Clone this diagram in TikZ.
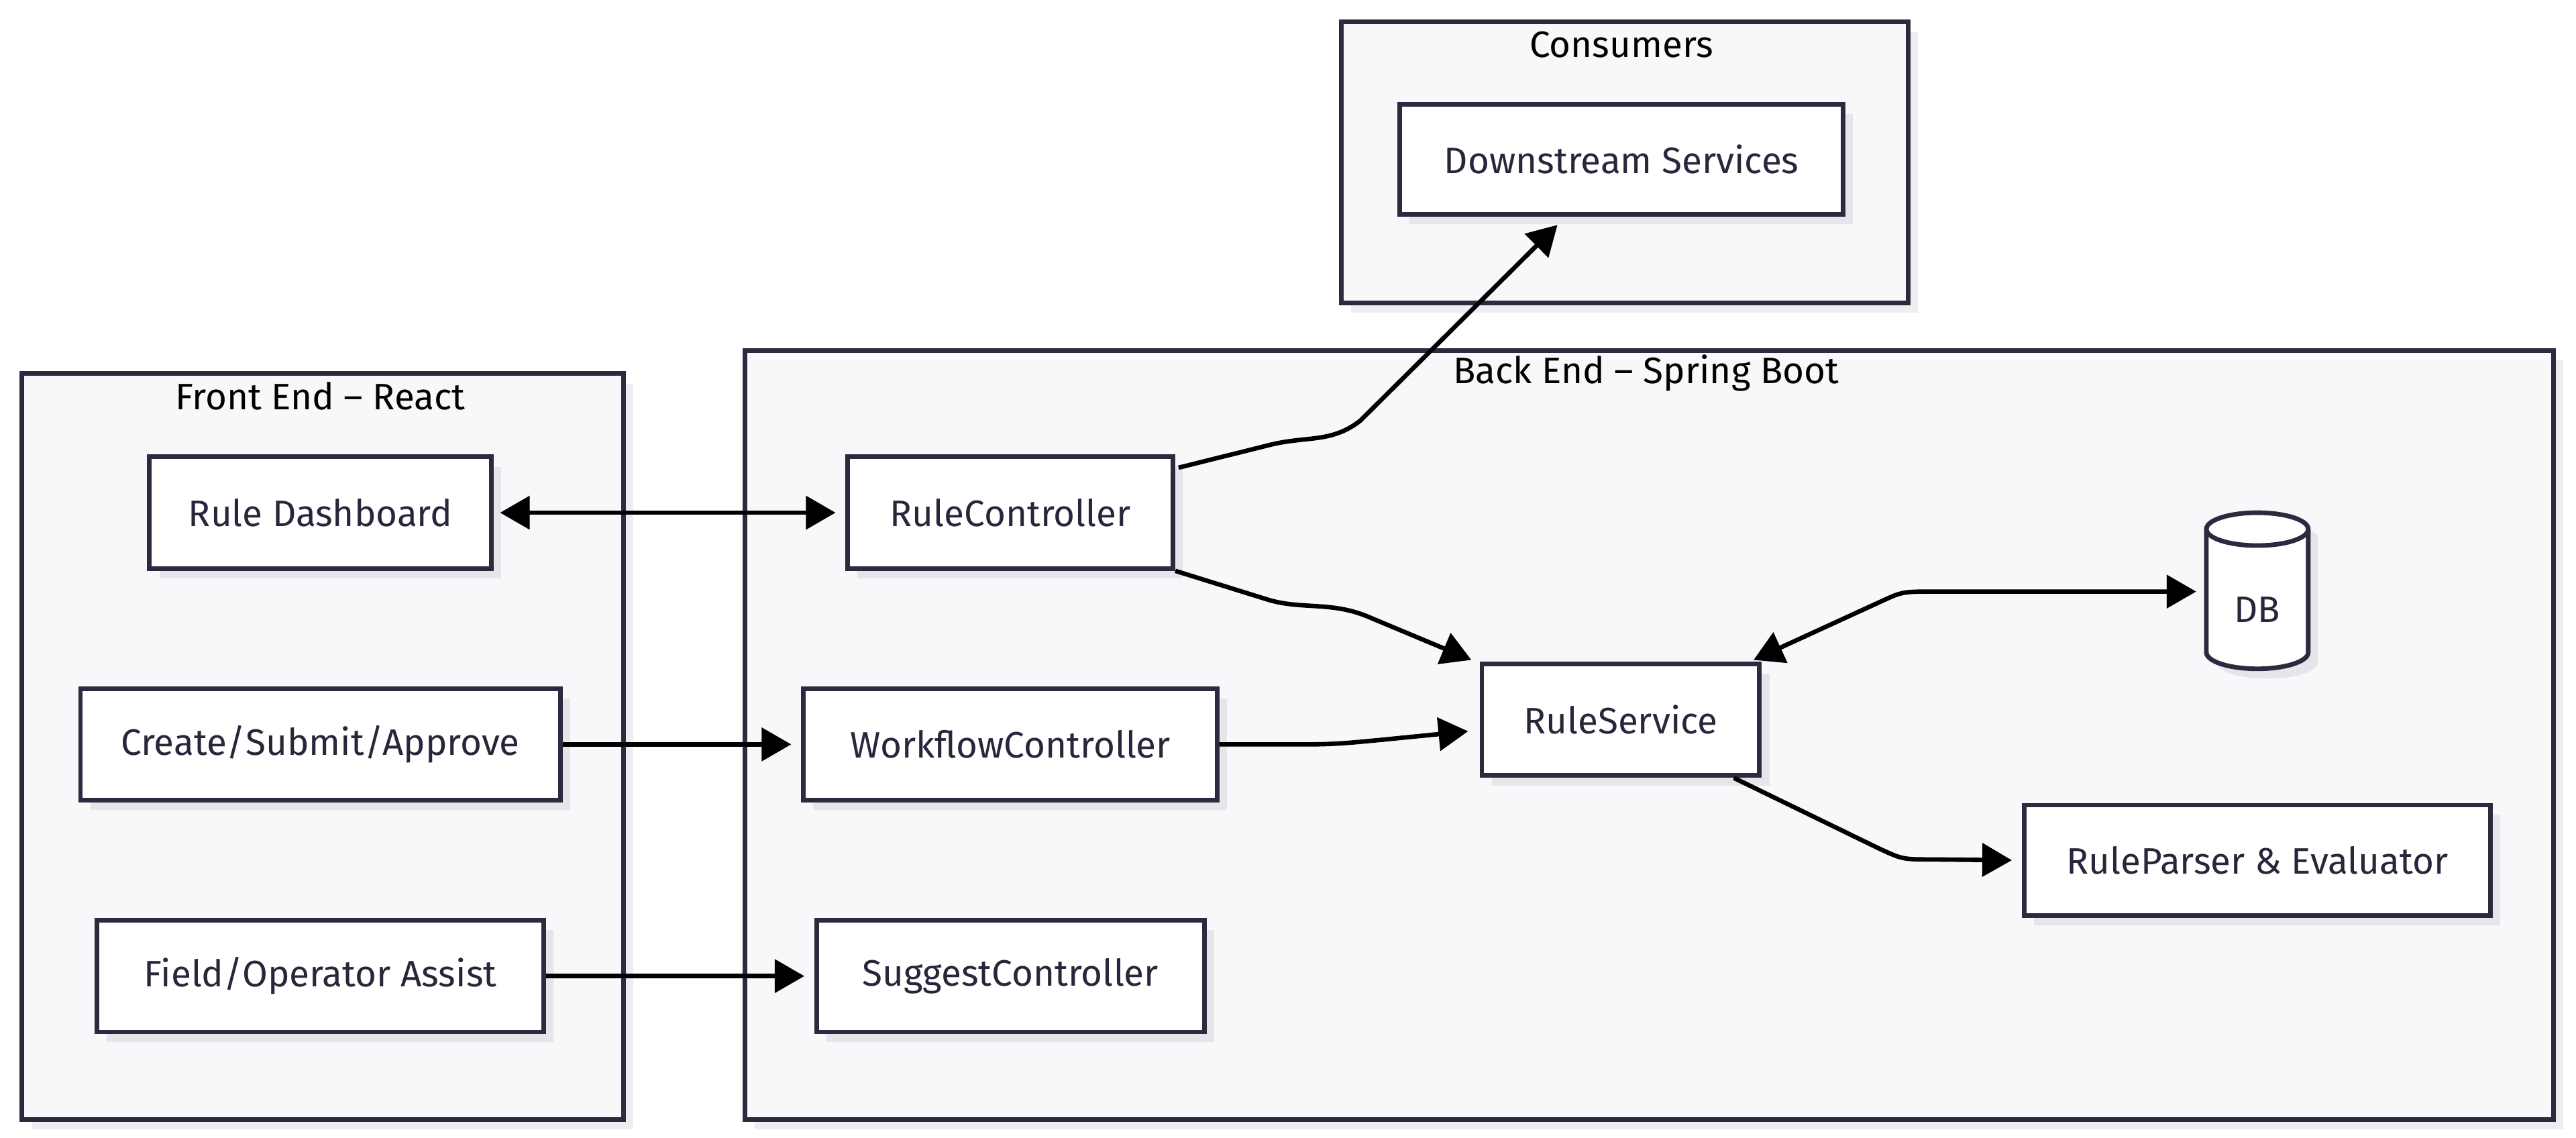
\documentclass[tikz,border=0pt]{standalone}
\usepackage{fontspec}
\setmainfont{Fira Sans}
\usetikzlibrary{arrows.meta,calc,shadows}
\definecolor{grpfill}{HTML}{F8F8FA}
\definecolor{edgec}{HTML}{2B2A3F}
\definecolor{shadowg}{HTML}{EEEEF1}
\definecolor{shadowc}{HTML}{E6E6EA}
\definecolor{txtc}{HTML}{27263A}
\begin{document}
\begin{tikzpicture}[x=1pt,y=-1pt,
  grp/.style={draw=edgec, line width=2.8pt, fill=grpfill, inner sep=0pt, anchor=north west,
    general shadow={fill=shadowg, shadow xshift=6pt, shadow yshift=-6pt}},
  grptitle/.style={font=\fontsize{22.4}{26}\selectfont, text=black, inner sep=0pt},
  box/.style={draw=edgec, line width=2.8pt, fill=white, inner sep=0pt,
    font=\fontsize{22.4}{26}\selectfont, text=txtc,
    general shadow={fill=shadowc, shadow xshift=6pt, shadow yshift=-6pt}},
  arr/.style={line width=2.7pt, black, -{Triangle[length=18pt,width=20pt]}},
  arrb/.style={line width=2.7pt, black, {Triangle[length=18pt,width=20pt]}-{Triangle[length=18pt,width=20pt]}}
]
\useasboundingbox (0,0) rectangle (1568,692.5);
\fill[white] (0,0) rectangle (1568,692.5);

% groups
\node[grp, minimum width=345, minimum height=171] (cons) at (815,12) {};
\node[grptitle] (const) at (987,27) {Consumers};
\node[grp, minimum width=1101, minimum height=468] (be) at (452,212) {};
\node[grptitle] (bet) at (1002,227) {Back End – Spring Boot};
\node[grp, minimum width=366, minimum height=454] (fe) at (12,226) {};
\node[grptitle] (fet) at (195,241) {Front End – React};

% nodes
\node[box, minimum width=270, minimum height=67] (ds) at (987,97) {Downstream Services};
\node[box, minimum width=208, minimum height=68] (rd) at (195,312) {Rule Dashboard};
\node[box, minimum width=292, minimum height=68] (csa) at (195,453) {Create/Submit/Approve};
\node[box, minimum width=272, minimum height=68] (foa) at (195,594) {Field/Operator Assist};
\node[box, minimum width=198, minimum height=68] (rc) at (615,312) {RuleController};
\node[box, minimum width=252, minimum height=68] (wc) at (615,453) {WorkflowController};
\node[box, minimum width=236, minimum height=68] (sc) at (615,594) {SuggestController};
\node[box, minimum width=169, minimum height=68] (rs) at (986.5,438) {RuleService};
\node[box, minimum width=284, minimum height=67] (rp) at (1374,523.5) {RuleParser \& Evaluator};

% DB cylinder
\node[inner sep=0pt, minimum width=62, minimum height=95] (db) at (1374,360) {};
\fill[shadowc] (1349,328) -- (1349,403) arc[start angle=180,end angle=0,x radius=31,y radius=10] -- (1411,328) arc[start angle=0,end angle=-180,x radius=31,y radius=10] -- cycle;
\draw[draw=edgec, line width=2.8pt, fill=white] (1343,322) -- (1343,397) arc[start angle=180,end angle=0,x radius=31,y radius=10] -- (1405,322) arc[start angle=0,end angle=-180,x radius=31,y radius=10] -- cycle;
\draw[draw=edgec, line width=2.8pt] (1343,322) arc[start angle=180,end angle=0,x radius=31,y radius=10];
\node[inner sep=0pt, font=\fontsize{22.4}{26}\selectfont, text=txtc] (dbt) at (1374,371) {DB};

% edges
\draw[arrb] ($(rd.east)+(4,0)$) -- ($(rc.west)+(-6,0)$);
\draw[arr] (csa.east) -- ($(wc.west)+(-6,0)$);
\draw[arr] (foa.east) -- ($(sc.west)+(-6,0)$);
\draw[arr] ($(rc.north east)+(2,8)$) -- (772,271) .. controls (795,265) and (810,270) .. (828,256) -- ($(ds.south)+(-39,5)$);
\draw[arr] (rc.south east) -- (772,365) .. controls (792,371) and (810,366) .. (832,375) -- ($(rs.north west)+(-5,-1)$);
\draw[arr] (wc.east) -- (795,453) .. controls (812,453) and (822,452) .. (838,450.5) -- ($(rs.west)+(-7,7)$);
\draw[arrb] ($(rs.north east)+(-5,-1)$) -- (1145,366) .. controls (1158,360) .. (1178,360) -- ($(db.west)+(-6,0)$);
\draw[arr] ($(rs.south east)+(-17,0)$) -- (1143,516) .. controls (1158,523) .. (1176,523) -- ($(rp.west)+(-6,0)$);
\end{tikzpicture}
\end{document}
